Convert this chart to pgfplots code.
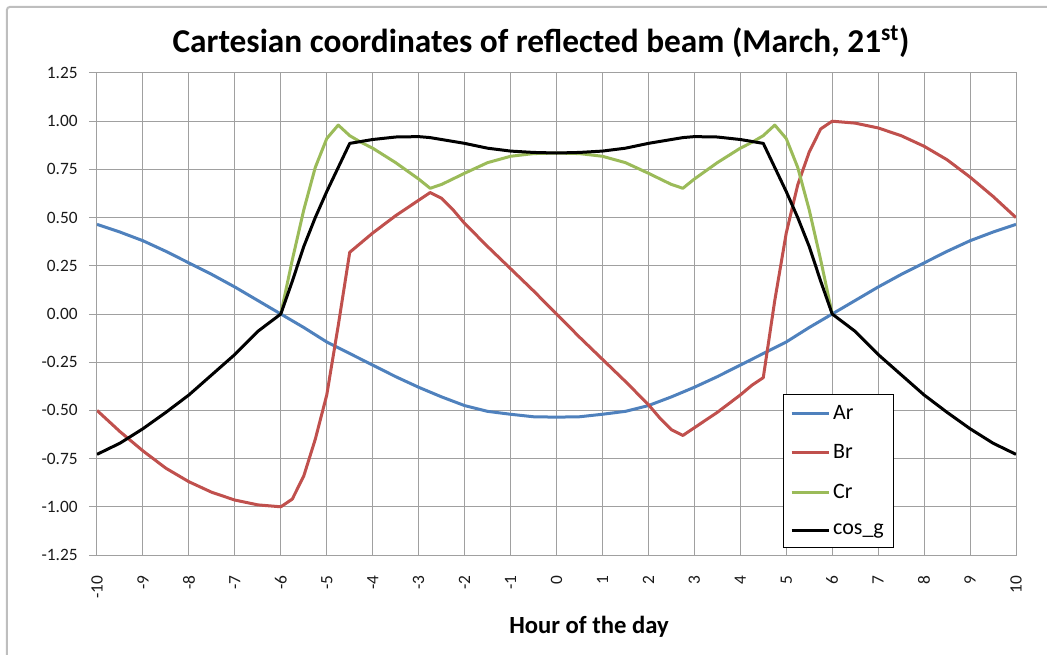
\documentclass[border=0pt]{standalone}
\usepackage{fontspec}
\setmainfont{Carlito}
\usepackage{pgfplots}
\pgfplotsset{compat=1.18}

\definecolor{exBlue}{HTML}{4F81BD}
\definecolor{exRed}{HTML}{C0504D}
\definecolor{exGreen}{HTML}{9BBB59}
\definecolor{gridGray}{RGB}{160,160,160}
\definecolor{frameGray}{RGB}{190,190,190}

\begin{document}
\begin{tikzpicture}
% page = 1047 x 654 px, 1 px = 0.75pt, plot origin at px (97,555)
\useasboundingbox (-72.75pt,-74.25pt) rectangle (712.5pt,416.25pt);
\draw[frameGray, line width=1.5pt, rounded corners=2pt] (-67.5pt,-120pt) rectangle (760pt,411pt);
\begin{axis}[
  at={(0,0)}, anchor=south west,
  scale only axis,
  width=689.25pt, height=361.5pt,
  xmin=-10, xmax=10, ymin=-1.25, ymax=1.25,
  xtick={-10,-9,...,10},
  ytick={-1.25,-1,-0.75,-0.5,-0.25,0,0.25,0.5,0.75,1,1.25},
  grid=major,
  major grid style={draw=gridGray, line width=0.75pt},
  axis line style={draw=gridGray, line width=0.75pt},
  tick style={draw=gridGray, line width=0.75pt},
  xtick style={draw=none},
  tick align=outside, major tick length=6pt,
  ytick pos=left, xtick pos=bottom,
  /pgf/number format/assume math mode=true,
  tick label style={font=\fontsize{13}{15}\selectfont, text=black!90},
  yticklabel style={/pgf/number format/.cd, fixed, fixed zerofill, precision=2},
  yticklabel shift=5pt,
  xticklabel style={rotate=90, anchor=east},
  xticklabel shift=6pt,
  xlabel={\textbf{Hour of the day}},
  xlabel style={font=\fontsize{18.5}{22}\selectfont, at={(axis description cs:0.5354,-0.1494)}, anchor=center},
  legend style={at={(axis description cs:0.7465,0.334)}, anchor=north west,
    draw=black, line width=0.75pt, font=\fontsize{16.5}{19}\selectfont,
    row sep=13.5pt, inner xsep=5pt, inner ysep=6pt,
    /tikz/every even column/.append style={column sep=4pt}},
  legend cell align=left,
  legend image code/.code={\draw[#1] (0pt,0pt) -- (28pt,0pt);},
  every axis plot/.append style={line width=2.25pt, line join=round},
]
\addplot[exBlue] coordinates {
(-10,0.465) (-9.5,0.425) (-9,0.38) (-8.5,0.325) (-8,0.265) (-7.5,0.205) (-7,0.14) (-6.5,0.07)
(-6,0) (-5.5,-0.07) (-5,-0.145) (-4.5,-0.205) (-4,-0.265) (-3.5,-0.325) (-3,-0.38) (-2.5,-0.43)
(-2,-0.475) (-1.5,-0.505) (-1,-0.52) (-0.5,-0.533) (0,-0.535)
(0.5,-0.533) (1,-0.52) (1.5,-0.505) (2,-0.475) (2.5,-0.43) (3,-0.38) (3.5,-0.325) (4,-0.265)
(4.5,-0.205) (5,-0.145) (5.5,-0.07) (6,0) (6.5,0.07) (7,0.14) (7.5,0.205) (8,0.265)
(8.5,0.325) (9,0.38) (9.5,0.425) (10,0.465)};
\addlegendentry{Ar}
\addplot[exRed] coordinates {
(-10,-0.50) (-9.5,-0.61) (-9,-0.71) (-8.5,-0.80) (-8,-0.87) (-7.5,-0.925) (-7,-0.965) (-6.5,-0.99)
(-6,-1.00) (-5.75,-0.96) (-5.5,-0.84) (-5.25,-0.65) (-5,-0.42) (-4.75,-0.06) (-4.5,0.32)
(-4.25,0.37) (-4,0.42) (-3.5,0.51) (-3,0.59) (-2.75,0.63) (-2.5,0.60) (-2.25,0.54) (-2,0.47)
(-1.5,0.35) (-1,0.235) (-0.5,0.12) (0,0)
(0.5,-0.12) (1,-0.235) (1.5,-0.35) (2,-0.47) (2.25,-0.54) (2.5,-0.60) (2.75,-0.63) (3,-0.59)
(3.5,-0.51) (4,-0.42) (4.25,-0.37) (4.5,-0.33) (4.75,0.07) (5,0.42) (5.25,0.67) (5.5,0.84)
(5.75,0.96) (6,1.00) (6.5,0.99) (7,0.965) (7.5,0.925) (8,0.87) (8.5,0.80) (9,0.71) (9.5,0.61) (10,0.50)};
\addlegendentry{Br}
\addplot[exGreen] coordinates {
(-6,0) (-5.75,0.28) (-5.5,0.54) (-5.25,0.76) (-5,0.91) (-4.75,0.98) (-4.5,0.925) (-4.25,0.89)
(-4,0.86) (-3.5,0.785) (-3,0.70) (-2.75,0.652) (-2.5,0.672) (-2,0.73) (-1.5,0.785) (-1,0.818)
(-0.5,0.832) (0,0.835)
(0.5,0.832) (1,0.818) (1.5,0.785) (2,0.73) (2.5,0.672) (2.75,0.652) (3,0.70) (3.5,0.785)
(4,0.86) (4.25,0.89) (4.5,0.925) (4.75,0.98) (5,0.91) (5.25,0.76) (5.5,0.54) (5.75,0.28) (6,0)};
\addlegendentry{Cr}
\addplot[black] coordinates {
(-10,-0.728) (-9.5,-0.67) (-9,-0.595) (-8.5,-0.51) (-8,-0.42) (-7.5,-0.315) (-7,-0.21) (-6.5,-0.09)
(-6,0) (-5.75,0.17) (-5.5,0.35) (-5.25,0.50) (-5,0.635) (-4.75,0.76) (-4.5,0.885) (-4.25,0.895)
(-4,0.905) (-3.5,0.918) (-3,0.92) (-2.75,0.915) (-2.5,0.905) (-2,0.885) (-1.5,0.86) (-1,0.845)
(-0.5,0.838) (0,0.835)
(0.5,0.838) (1,0.845) (1.5,0.86) (2,0.885) (2.5,0.905) (2.75,0.915) (3,0.92) (3.5,0.918)
(4,0.905) (4.25,0.895) (4.5,0.885) (4.75,0.76) (5,0.635) (5.25,0.50) (5.5,0.35) (5.75,0.17)
(6,0) (6.5,-0.09) (7,-0.21) (7.5,-0.315) (8,-0.42) (8.5,-0.51) (9,-0.595) (9.5,-0.67) (10,-0.728)};
\addlegendentry{cos\_g}
\end{axis}
\node[font=\fontsize{25}{29}\selectfont\bfseries, anchor=center] at (333pt,384.75pt)
  {Cartesian coordinates of reflected beam (March, 21\textsuperscript{st})};
\end{tikzpicture}
\end{document}
